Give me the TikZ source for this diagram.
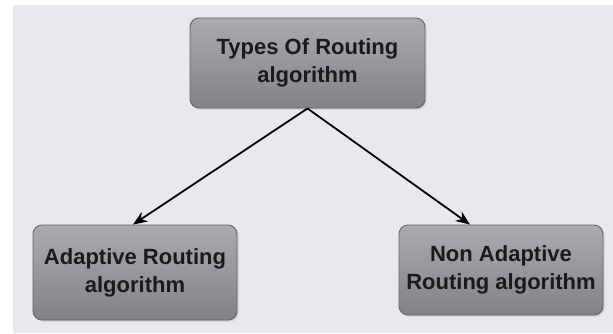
\documentclass[tikz,border=0pt]{standalone}
\usepackage{fontspec}
\setmainfont{Liberation Sans}
\usepackage{xcolor}
\usetikzlibrary{arrows.meta, positioning, shadows}
\definecolor{paper}{HTML}{E9E8EE}
\definecolor{boxtop}{HTML}{ABAAAF}
\definecolor{boxbot}{HTML}{838288}
\definecolor{boxline}{HTML}{66656B}
\definecolor{ink}{HTML}{1A1A1A}
\tikzset{
	kind/.style={draw=boxline, line width=0.9pt, rounded corners=9pt,
		top color=boxtop, bottom color=boxbot, align=center, inner sep=2pt,
		text=ink, font=\bfseries\fontsize{22}{28}\selectfont,
		drop shadow={opacity=0.25, shadow xshift=1.5pt, shadow yshift=-1.5pt}},
	arr/.style={-{Stealth[length=5mm, width=4mm]}, line width=1.8pt, black},
}
\begin{document}
\begin{tikzpicture}[x=1pt, y=-1pt]
	\useasboundingbox (0,0) rectangle (613,333);
	\fill[paper] (13,5) rectangle (613,333);
	\node[kind, minimum width=235pt, minimum height=90pt] (types) at (307.5,63) {Types Of Routing\\algorithm};
	\node[kind, minimum width=204pt, minimum height=95pt] (adapt) at (135,272.5) {Adaptive Routing\\algorithm};
	\node[kind, minimum width=204pt, minimum height=90pt] (nonadapt) at (501,270) {Non Adaptive\\Routing algorithm};
	\draw[arr] (types.south) -- ([xshift=-2pt]adapt.north);
	\draw[arr] (types.south) -- ([xshift=-31pt]nonadapt.north);
\end{tikzpicture}
\end{document}
